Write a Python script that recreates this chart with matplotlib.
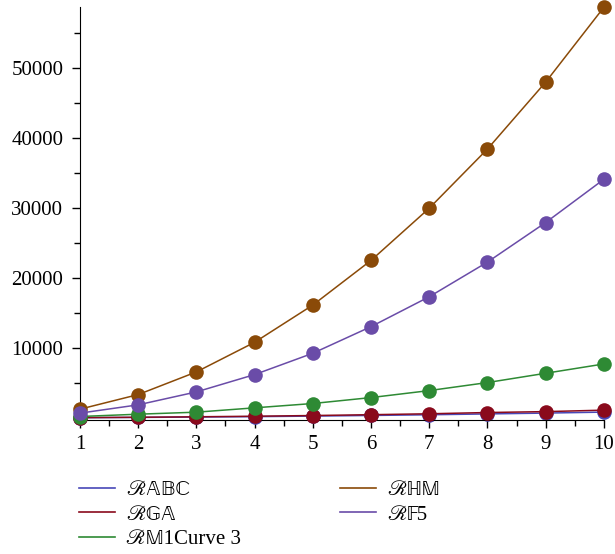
import matplotlib
matplotlib.use("Agg")
import matplotlib.pyplot as plt
from matplotlib.ticker import MultipleLocator

plt.rcParams['font.family'] = ['Liberation Serif', 'STIXGeneral', 'DejaVu Sans']

x = [1, 2, 3, 4, 5, 6, 7, 8, 9, 10]
r_abc = [20, 60, 110, 170, 250, 340, 440, 560, 680, 820]
r_ga = [30, 80, 150, 230, 330, 450, 580, 760, 890, 1100]
r_m1 = [190, 520, 810, 1430, 2050, 2900, 3900, 5050, 6380, 7710]
r_hm = [1240, 3330, 6570, 10810, 16140, 22530, 30000, 38470, 48050, 58760]
r_f5 = [670, 1860, 3710, 6190, 9240, 13050, 17330, 22290, 27950, 34140]

series = [
    (r_abc, '\u211b\U0001d538\U0001d539\u2102', '#4848b8', 2),
    (r_ga, '\u211b\U0001d53e\U0001d538', '#8a0a1c', 3),
    (r_m1, '\u211b\U0001d544' + '1Curve 3', '#2e8a34', 4),
    (r_hm, '\u211b\u210d\U0001d544', '#8a4a08', 5),
    (r_f5, '\u211b\U0001d53d' + '5', '#6a4ca8', 6),
]

fig = plt.figure(figsize=(6.15, 5.54), dpi=100)
ax = fig.add_axes([0.130, 0.242, 0.852, 0.745])

handles = []
for ys, label, color, z in series:
    ax.plot(x, ys, color=color, lw=1.1, marker='o', ms=10.5,
            markeredgewidth=0, zorder=z, clip_on=False)
    h, = ax.plot([], [], color=color, lw=1.2, label=label)
    handles.append(h)

ax.set_xlim(1, 10)
ax.set_ylim(-300, 58760)
ax.spines['top'].set_visible(False)
ax.spines['right'].set_visible(False)
ax.xaxis.set_major_locator(MultipleLocator(1))
ax.xaxis.set_minor_locator(MultipleLocator(0.5))
ax.yaxis.set_minor_locator(MultipleLocator(5000))
ax.set_yticks([10000, 20000, 30000, 40000, 50000])
ax.tick_params(which='major', length=6, width=1, labelsize=15)
ax.tick_params(axis='x', which='major', pad=5)
ax.tick_params(axis='y', which='major', pad=6)
ax.tick_params(which='minor', length=4, width=1)

fig.legend(handles=handles, ncol=2, loc='upper left',
           bbox_to_anchor=(0.112, 0.152), frameon=False, fontsize=15,
           handlelength=1.7, handletextpad=0.55, labelspacing=0.25,
           columnspacing=4.75, borderpad=0)

fig.savefig('out.png', dpi=100)
